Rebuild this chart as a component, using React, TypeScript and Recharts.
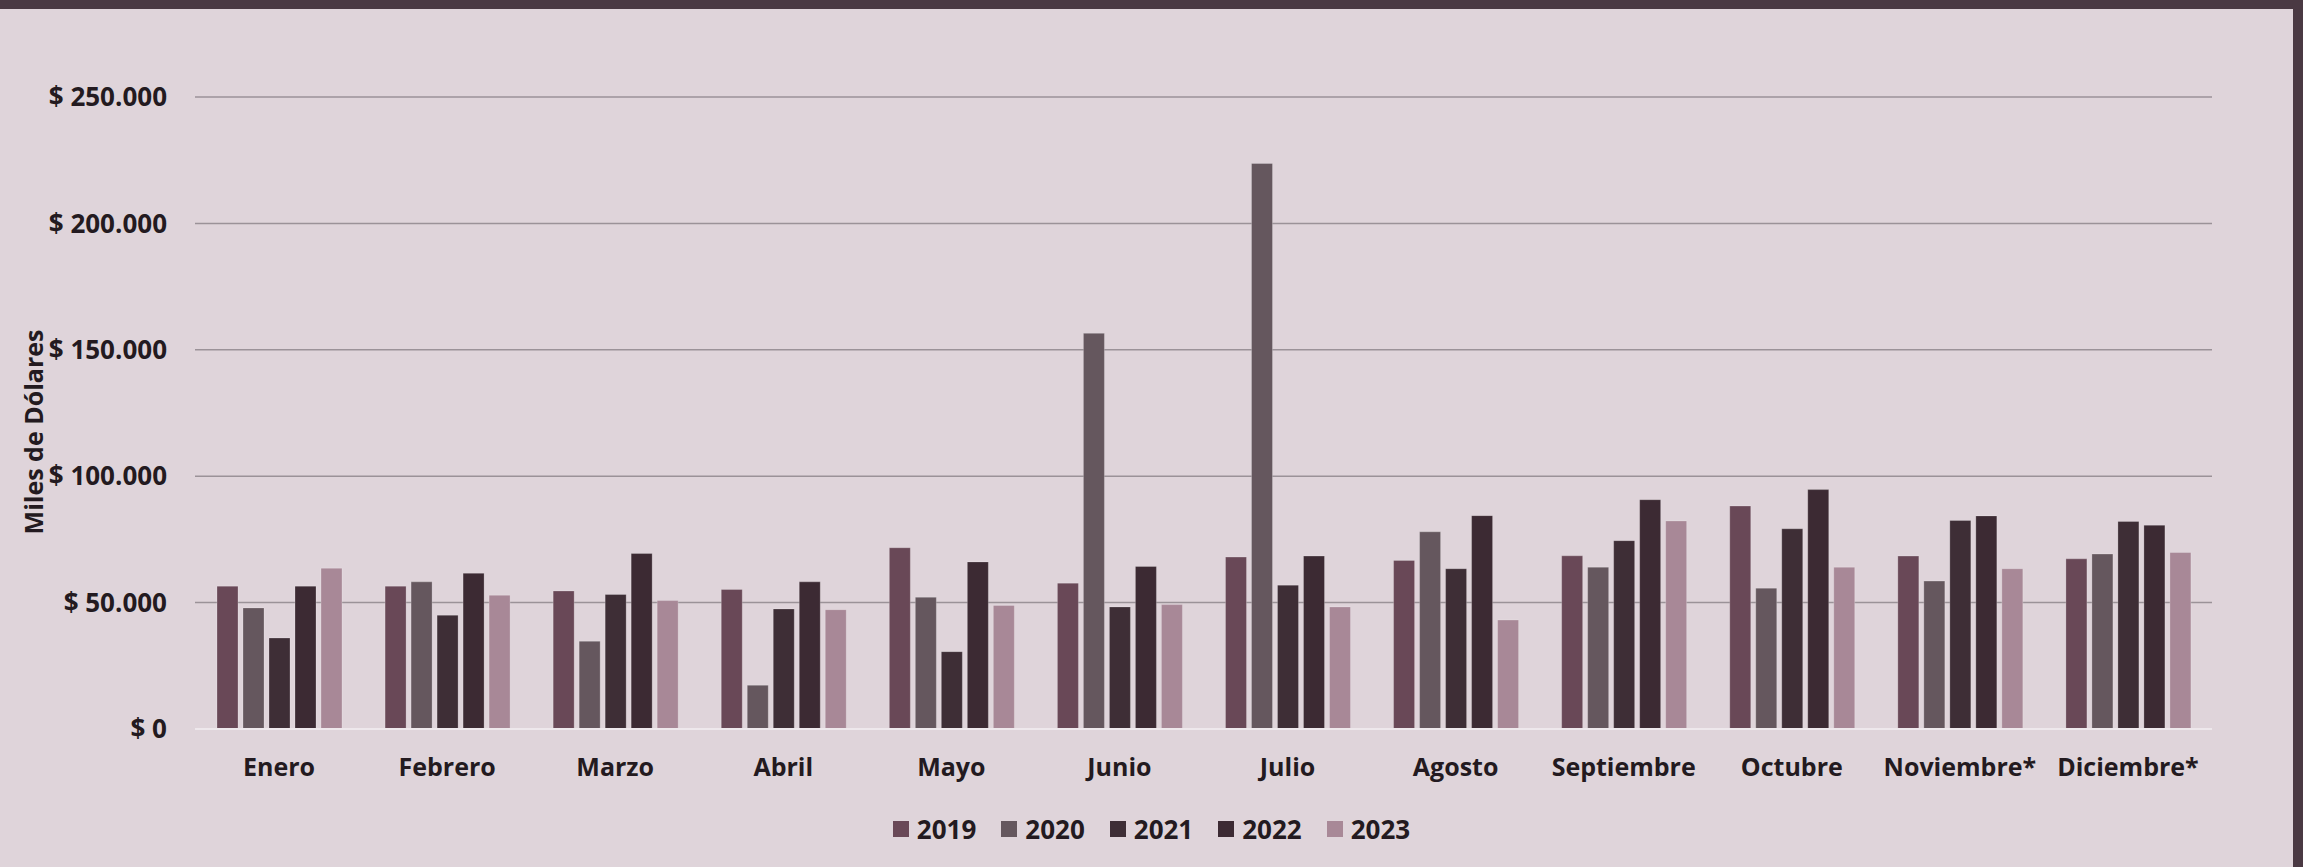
import { BarChart, Bar, XAxis, YAxis, CartesianGrid, Legend, Label } from 'recharts'

const months = [
  'Enero', 'Febrero', 'Marzo', 'Abril', 'Mayo', 'Junio',
  'Julio', 'Agosto', 'Septiembre', 'Octubre', 'Noviembre*', 'Diciembre*',
]

// thousands of dollars
const v2019 = [56500, 56500, 54600, 55200, 71700, 57700, 68000, 66700, 68500, 88200, 68400, 67300]
const v2020 = [47900, 58200, 34700, 17300, 52100, 156500, 223700, 78000, 64000, 55700, 58500, 69200]
const v2021 = [36000, 45000, 53200, 47500, 30600, 48300, 56900, 63400, 74500, 79200, 82500, 82100]
const v2022 = [56500, 61600, 69400, 58200, 66100, 64300, 68400, 84400, 90700, 94700, 84300, 80600]
const v2023 = [63600, 52900, 50800, 47200, 48900, 49200, 48300, 43100, 82300, 64000, 63400, 69800]

const yTicks = [0, 50000, 100000, 150000, 200000, 250000]

const series = [
  { key: '2019', values: v2019, color: '#694857' },
  { key: '2020', values: v2020, color: '#65575e' },
  { key: '2021', values: v2021, color: '#3e2e36' },
  { key: '2022', values: v2022, color: '#3c2a33' },
  { key: '2023', values: v2023, color: '#a88897' },
]

const data = months.map((m, i) => {
  const row: Record<string, string | number> = { month: m }
  for (const s of series) row[s.key] = s.values[i]
  return row
})

const textColor = '#231a20'
const font = '"Open Sans", sans-serif'

const fmt = (n: number) =>
  n === 0 ? '$ 0' : `$ ${n.toLocaleString('de-DE')}`

const renderLegend = (props: any) => {
  const { payload = [] } = props
  return (
    <div style={{ display: 'flex', justifyContent: 'center', gap: 25, fontFamily: font, fontWeight: 700, fontSize: 26, color: textColor, lineHeight: '36px' }}>
      {payload.map((e: any) => (
        <span key={e.value} style={{ display: 'flex', alignItems: 'center' }}>
          <span style={{ width: 16, height: 16, background: e.color, marginRight: 8, display: 'inline-block' }} />
          {e.value}
        </span>
      ))}
    </div>
  )
}

export default function App() {
  return (
    <div style={{ position: 'absolute', left: 0, top: 0, width: 2303, height: 867, background: '#dfd4da', overflow: 'hidden' }}>
      <div style={{ position: 'absolute', left: 0, top: 0, width: 2303, height: 9, background: '#4a3943' }} />
      <div style={{ position: 'absolute', left: 2293, top: 0, width: 10, height: 867, background: '#4a3943' }} />
      <BarChart
        width={2303}
        height={867}
        data={data}
        margin={{ top: 97, right: 91, left: 0, bottom: 42 }}
        barCategoryGap={22}
        barGap={5}
      >
        <CartesianGrid vertical={false} stroke="#9b9298" strokeWidth={1.5} />
        <XAxis
          dataKey="month"
          height={60}
          tickLine={false}
          axisLine={{ stroke: '#eee8ec', strokeWidth: 2 }}
          tickMargin={23}
          tick={{ fill: textColor, fontSize: 25, fontWeight: 700, fontFamily: font }}
        />
        <YAxis
          width={195}
          domain={[0, 250000]}
          ticks={yTicks}
          tickFormatter={fmt}
          axisLine={false}
          tickLine={false}
          tickMargin={22}
          tick={{ fill: textColor, fontSize: 26, fontWeight: 700, fontFamily: font }}
        >
          <Label
            content={() => (
              <text
                x={33}
                y={432}
                transform="rotate(-90 33 432)"
                textAnchor="middle"
                dominantBaseline="central"
                fill={textColor}
                fontSize={25}
                fontWeight={700}
                fontFamily={font}
              >
                Miles de Dólares
              </text>
            )}
          />
        </YAxis>
        <Legend
          layout="vertical"
          align="center"
          verticalAlign="bottom"
          content={renderLegend}
          wrapperStyle={{ top: 811, left: 0, width: 2303 }}
        />
        {series.map(s => (
          <Bar
            key={s.key}
            dataKey={s.key}
            name={s.key}
            fill={s.color}
            stroke="rgba(255,255,255,0.22)"
            strokeWidth={1}
            isAnimationActive={false}
          />
        ))}
      </BarChart>
    </div>
  )
}
